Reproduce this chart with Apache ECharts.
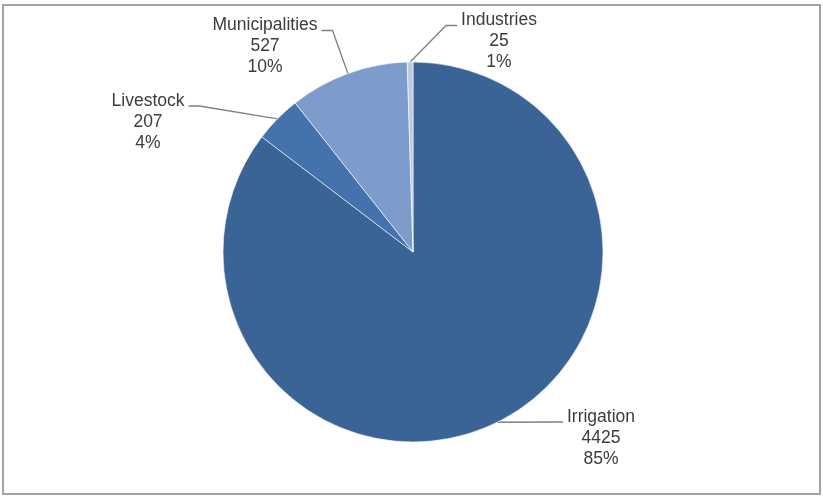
<!DOCTYPE html>
<html>
<head>
<meta charset="utf-8">
<script src="https://cdn.jsdelivr.net/npm/echarts@6/dist/echarts.min.js"></script>
<style>
  html, body { margin: 0; padding: 0; background: #ffffff; }
  #chart { width: 823px; height: 498px; }
</style>
</head>
<body>
<div id="chart"></div>
<script>
// Water use by sector
const categories = ['Irrigation', 'Livestock', 'Municipalities', 'Industries'];
const values = [4425, 207, 527, 25];
const percentLabels = ['85%', '4%', '10%', '1%'];
const sliceColors = ['#3b6496', '#4472ad', '#7d9bcb', '#bccbe4'];

// Centre of the first text line of each label, by slice
const labelSpots = [
  { x: 601, y: 417 },
  { x: 148, y: 101 },
  { x: 265, y: 25.5 },
  { x: 499, y: 20.5 }
];

const LINE_H = 21;
// Extra room above the text so the leader meets the label near its first line
const TOP_PAD = 32;
const SIDE_PAD = 4;

const chart = echarts.init(document.getElementById('chart'), null, { renderer: 'canvas' });

chart.setOption({
  backgroundColor: '#ffffff',
  animation: false,
  graphic: [{
    type: 'rect',
    shape: { x: 3, y: 5, width: 817, height: 489 },
    style: { fill: 'none', stroke: '#a3a3a3', lineWidth: 2 },
    silent: true
  }],
  series: [{
    type: 'pie',
    center: [413, 252],
    radius: [0, 190],
    startAngle: 90,
    clockwise: true,
    avoidLabelOverlap: false,
    itemStyle: { borderColor: '#ffffff', borderWidth: 0.6 },
    label: {
      show: true,
      color: '#3c3c3c',
      fontFamily: 'Liberation Sans, Arial, sans-serif',
      fontSize: 17.5,
      lineHeight: LINE_H,
      align: 'center',
      padding: [TOP_PAD, SIDE_PAD, 0, SIDE_PAD],
      backgroundColor: 'transparent',
      formatter: p => p.name + '\n' + p.value + '\n' + percentLabels[p.dataIndex]
    },
    labelLine: {
      show: true,
      length: 12,
      length2: 11,
      lineStyle: { color: '#808080', width: 1.3 }
    },
    labelLayout: params => {
      const s = labelSpots[params.dataIndex];
      return {
        x: s.x,
        y: s.y - LINE_H / 2 - TOP_PAD,
        align: 'center',
        verticalAlign: 'top'
      };
    },
    data: categories.map((name, i) => ({
      name: name,
      value: values[i],
      itemStyle: { color: sliceColors[i] }
    }))
  }]
});
</script>
</body>
</html>
